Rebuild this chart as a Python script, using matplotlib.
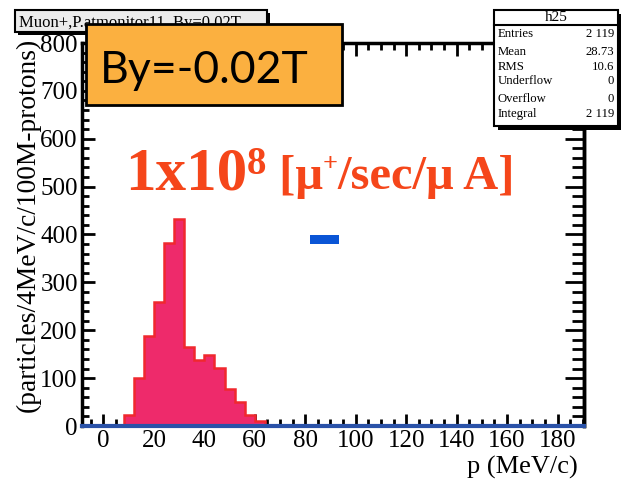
import numpy as np
import matplotlib.pyplot as plt
from matplotlib.patches import Rectangle
from matplotlib.ticker import MultipleLocator

W, H = 621, 486
SERIF = "Liberation Serif"

# muon momentum spectrum, 4 MeV/c bins
bin_edges = np.arange(8, 68, 4)
counts = [24, 100, 187, 258, 383, 432, 165, 138, 149, 122, 77, 50, 24, 10]

# small blue marker drawn inside the frame
marker_x = [82, 93.5]
marker_y = [381, 399]

hist_name = "h25"
stat_names = ["Entries", "Mean", "RMS", "Underflow", "Overflow", "Integral"]
stat_values = ["2 119", "28.73", "10.6", "0", "0", "2 119"]
stat_rows_y = [34, 52, 67, 81, 99, 114]

title = "Muon+,P.atmonitor11, By=0.02T"
field_label = "By=-0.02T"


def fx(x):
    return x / W


def fy(y):
    return 1 - y / H


def box(fig, x0, y0, x1, y1, face, lw=1.5, z=5, edge="black"):
    fig.patches.append(Rectangle((fx(x0), fy(y1)), fx(x1) - fx(x0), fy(y0) - fy(y1),
                                 transform=fig.transFigure, facecolor=face,
                                 edgecolor=edge, linewidth=lw, zorder=z))


fig = plt.figure(figsize=(W / 100, H / 100), dpi=100)
ax = fig.add_axes([fx(82), fy(426), fx(584) - fx(82), fy(43) - fy(426)])

ax.stairs(counts, bin_edges, fill=True, color="#ee2a6b", zorder=2)
ax.stairs(counts, bin_edges, color="#f0282e", linewidth=1.8, zorder=3)
ax.add_patch(Rectangle((marker_x[0], marker_y[0]), marker_x[1] - marker_x[0],
                       marker_y[1] - marker_y[0], facecolor="#0a55d6", edgecolor="none"))

ax.set_xlim(-8.5, 190.5)
ax.set_ylim(0, 800)
ax.xaxis.set_major_locator(MultipleLocator(20))
ax.xaxis.set_minor_locator(MultipleLocator(5))
ax.yaxis.set_major_locator(MultipleLocator(100))
ax.yaxis.set_minor_locator(MultipleLocator(20))
ax.tick_params(which="both", direction="in", top=True, right=False, width=2,
               labelsize=18, pad=3)
ax.tick_params(which="major", length=9)
ax.tick_params(which="minor", length=5)
for lab in ax.get_xticklabels() + ax.get_yticklabels():
    lab.set_fontfamily(SERIF)

# longer ticks on the right-hand frame
sec = ax.secondary_yaxis("right")
sec.yaxis.set_major_locator(MultipleLocator(100))
sec.yaxis.set_minor_locator(MultipleLocator(20))
sec.tick_params(which="both", direction="in", width=2, labelright=False)
sec.tick_params(which="major", length=14)
sec.tick_params(which="minor", length=9)
sec.spines["right"].set_linewidth(2.5)

for s in ["left", "top", "right"]:
    ax.spines[s].set_linewidth(2.5)
ax.spines["bottom"].set_color("#2a52a8")
ax.spines["bottom"].set_linewidth(3)
ax.spines["bottom"].set_zorder(4)

ax.set_ylabel("(particles/4MeV/c/100M-protons)", fontsize=19.8, family=SERIF)
ax.yaxis.set_label_coords(-0.083, 0.525)
fig.text(fx(578), fy(467), "p (MeV/c)", fontsize=19, family=SERIF,
         ha="right", va="center")

# title pave, partly hidden behind the field box
box(fig, 18, 13, 270, 35, "black", lw=0, z=5)
box(fig, 15, 10, 267, 32, "#ececec", lw=1.5, z=6)
fig.text(fx(19), fy(27), title, fontsize=12, family=SERIF, va="baseline", zorder=7)

# field box
box(fig, 86, 24, 342, 105, "#fbb040", lw=2, z=8)
fig.text(fx(100), fy(83), field_label, fontsize=32, family="Lato",
         va="baseline", zorder=9)

# stats box
box(fig, 498, 14, 622, 130, "black", lw=0, z=5)
box(fig, 494, 10, 618, 126, "white", lw=1.5, z=6)
fig.lines.append(plt.Line2D([fx(494), fx(618)], [fy(25), fy(25)],
                            transform=fig.transFigure, color="black", lw=1.5, zorder=7))
fig.text(fx(556), fy(17.5), hist_name, fontsize=11, family=SERIF,
         ha="center", va="center", zorder=7)
for name, val, yy in zip(stat_names, stat_values, stat_rows_y):
    fig.text(fx(498), fy(yy), name, fontsize=9.2, family=SERIF, va="center", zorder=7)
    fig.text(fx(614), fy(yy), val, fontsize=9.2, family=SERIF, va="center",
             ha="right", zorder=7)

# rate annotation built from pieces so the sizes can differ
red = "#f5461a"
pieces = [("1x10", 44, 0), ("8", 28, 15), (" [\u03bc", 35, 0), ("+", 19, 18),
          ("/sec/\u03bc A]", 35, 0)]
r = fig.canvas.get_renderer()
x = 125
for s, size, dy in pieces:
    t = fig.text(fx(x), fy(189 - dy), s, fontsize=size, family=SERIF,
                 weight="bold", color=red, va="baseline", zorder=9)
    x += t.get_window_extent(r).width

fig.savefig("out.png", dpi=100)
